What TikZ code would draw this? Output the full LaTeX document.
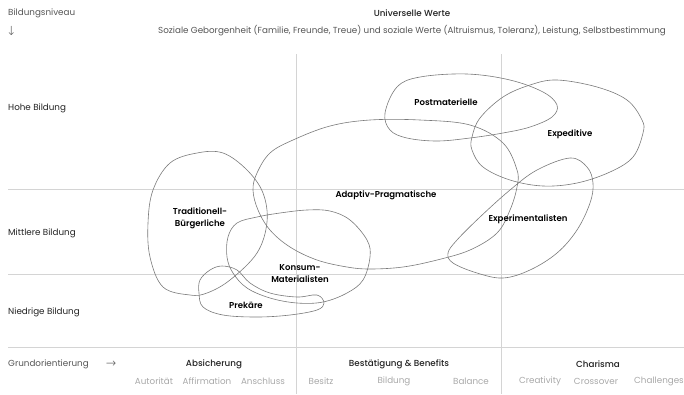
\documentclass[tikz,border=0pt]{standalone}
\usepackage{fontspec}
\setmainfont{Poppins}[BoldFont={Poppins Medium}]
\newfontfamily\semifont{Poppins SemiBold}
\newfontfamily\arrowfont{DejaVu Sans ExtraLight}
\usetikzlibrary{positioning}

\definecolor{gridgray}{HTML}{D4D4D4}
\definecolor{blobgray}{HTML}{7A7A7A}
\definecolor{subgray}{HTML}{A8A8A8}
\definecolor{textdark}{HTML}{222222}
\definecolor{textmid}{HTML}{555555}

\begin{document}
\begin{tikzpicture}[x=1bp,y=-1bp]

\tikzstyle{grid}=[draw=gridgray,line width=0.6bp]
\tikzstyle{blob}=[draw=blobgray,line width=0.6bp]
\tikzstyle{axis}=[inner sep=0pt,text=textdark,font=\fontsize{8.8}{10}\selectfont]
\tikzstyle{header}=[inner sep=0pt,text=textdark,font=\fontsize{8.8}{10}\selectfont\bfseries]
\tikzstyle{note}=[inner sep=0pt,text=textmid,font=\fontsize{8.8}{10}\selectfont]
\tikzstyle{sub}=[inner sep=0pt,text=subgray,font=\fontsize{8.8}{10}\selectfont]
\tikzstyle{milieu}=[inner sep=0pt,align=center,text=black,font=\fontsize{8.6}{12}\semifont]

\useasboundingbox (0,0) rectangle (684,394);

% Raster
\draw[grid] (296,54) -- (296,394);
\draw[grid] (501,54) -- (501,394);
\draw[grid] (8,189) -- (684,189);
\draw[grid] (8,274) -- (684,274);
\draw[grid] (8,347) -- (684,347);

% Kopfzeile
\node (niveau) [note,anchor=west] at (8,13) {Bildungsniveau};
\node (niveaupfeil) [note,anchor=west,font=\fontsize{12.5}{12.5}\arrowfont] at (6,31) {↓};
\node (werte) [header] at (412,13) {Universelle Werte};
\node (wertetext) [note] at (412,31) {Soziale Geborgenheit (Familie, Freunde, Treue) und soziale Werte (Altruismus, Toleranz), Leistung, Selbstbestimmung};

% Bildungsstufen
\node (hohe) [axis,anchor=west] at (8,108) {Hohe Bildung};
\node (mittlere) [axis,anchor=west] at (8,233) {Mittlere Bildung};
\node (niedrige) [axis,anchor=west] at (8,312) {Niedrige Bildung};

% Grundorientierung
\node (grund) [note,anchor=west] at (8,364) {Grundorientierung};
\node (grundpfeil) [note,font=\fontsize{12.5}{12.5}\arrowfont] at (111,364) {→};
\node (absicherung) [header] at (214,364) {Absicherung};
\node (benefits) [header] at (399,364) {Bestätigung \& Benefits};
\node (charisma) [header] at (598,364) {Charisma};

\node (autoritaet) [sub] at (154,381) {Autorität};
\node (affirmation) [sub] at (207,381) {Affirmation};
\node (anschluss) [sub] at (263,381) {Anschluss};
\node (besitz) [sub] at (321,381) {Besitz};
\node (bildung) [sub] at (394,381) {Bildung};
\node (balance) [sub] at (471,381) {Balance};
\node (creativity) [sub] at (540,381) {Creativity};
\node (crossover) [sub] at (596,381) {Crossover};
\node (challenges) [sub] at (659,381) {Challenges};

% Milieus
\draw[blob] plot[smooth cycle,tension=0.6] coordinates {(385,113) (397,87) (420,77) (467,74) (510,80) (543,92) (557,105) (552,117) (530,127) (503,133) (470,138) (437,141) (407,138) (390,130)};
\draw[blob] plot[smooth cycle,tension=0.6] coordinates {(557,80) (597,87) (627,100) (642,120) (643,133) (633,157) (610,172) (577,183) (543,186) (510,180) (483,167) (472,150) (472,137) (480,118) (503,97) (530,85)};
\draw[blob] plot[smooth cycle,tension=0.6] coordinates {(293,140) (330,126) (370,120) (420,120) (470,125) (503,143) (517,170) (517,187) (510,210) (497,233) (470,250) (437,260) (403,267) (370,269) (347,267) (317,260) (290,247) (270,230) (258,210) (253,190) (257,173) (270,153)};
\draw[blob] plot[smooth cycle,tension=0.6] coordinates {(570,158) (587,167) (593,183) (590,203) (577,230) (557,253) (530,270) (503,278) (477,273) (453,263) (448,253) (457,240) (480,217) (510,190) (537,170)};
\draw[blob] plot[smooth cycle,tension=0.6] coordinates {(197,153) (223,153) (247,170) (263,193) (267,222) (257,253) (230,280) (207,293) (190,295) (163,287) (150,257) (148,223) (153,190) (170,163)};
\draw[blob] plot[smooth cycle,tension=0.6] coordinates {(228,237) (237,223) (257,217) (280,213) (307,210) (330,211) (350,220) (367,240) (370,257) (363,280) (347,293) (323,302) (297,303) (270,298) (247,288) (233,273) (227,257)};
\draw[blob] plot[smooth cycle,tension=0.6] coordinates {(210,270) (222,266) (237,270) (250,283) (270,293) (297,297) (317,295) (324,303) (317,310) (290,315) (257,317) (223,315) (203,307) (199,293) (200,280)};

\node (postmateriell) [milieu] at (446,102) {Postmaterielle};
\node (expeditiv) [milieu] at (570,134) {Expeditive};
\node (adaptiv) [milieu] at (386,195) {Adaptiv-Pragmatische};
\node (traditionell) [milieu] at (200,218) {Traditionell-\\Bürgerliche};
\node (experimental) [milieu] at (528,219) {Experimentalisten};
\node (konsum) [milieu] at (300,274) {Konsum-\\Materialisten};
\node (prekaer) [milieu] at (246,305) {Prekäre};

\end{tikzpicture}
\end{document}
